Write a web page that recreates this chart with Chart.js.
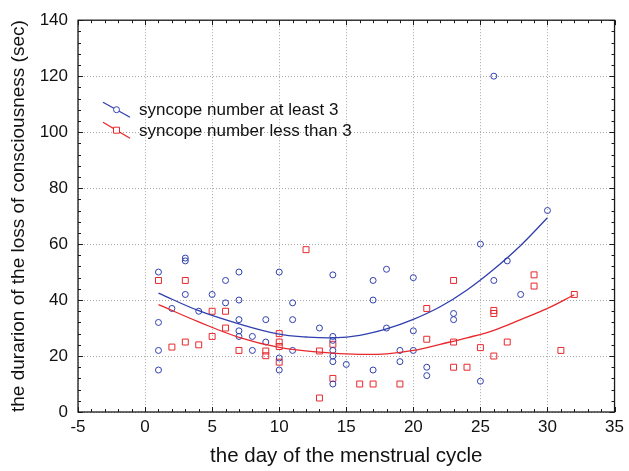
<!DOCTYPE html>
<html><head><meta charset="utf-8">
<script src="https://cdn.jsdelivr.net/npm/chart.js@4/dist/chart.umd.min.js"></script>
<style>html,body{margin:0;padding:0;background:#fff;}#wrap{width:629px;height:471px;}</style>
</head><body><div id="wrap"><canvas id="c" width="629" height="471"></canvas></div>
<script>
// ---- data ----
const xTickValues = [-5, 0, 5, 10, 15, 20, 25, 30, 35];
const yTickValues = [0, 20, 40, 60, 80, 100, 120, 140];
const seriesNames = ['syncope number at least 3', 'syncope number less than 3'];
const xTitle = 'the day of the menstrual cycle';
const yTitle = 'the durarion of the loss of consciousness (sec)';

const atLeast3Day = [1,3,3,7,6,3,5,7,6,2,4,1,7,7,7,8,1,8,1,
  10,14,17,17,11,9,11,13,14,9,14,11,14,14,10,14,15,10,17,14,
  25,18,20,26,23,23,18,20,19,20,19,21,21,25,
  30,27,28,26];
const atLeast3Dur = [50,55,54,50,47,42,42,40,39,37,36,32,33,29,27,27,22,22,15,
  50,49,47,40,39,33,33,30,27,25,25.6,22,22,20,19.3,18,17,15,15,10,
  60,51,48,47,35.2,33,30,29,22,22,18,16,13,11,
  72,54,42,120];

const lessThan3Day = [1,3,5,6,6,5,2,3,4,7,
  12,10,10,10,9,9,13,14,10,14,13,16,17,
  23,21,26,26,21,23,25,26,23,24,19,
  29,29,32,27,31];
const lessThan3Dur = [47,47,36,36,30,27,23.2,25,24,22,
  58,28,25,23.4,21.8,20.1,21.8,24.2,17.8,12,5,10,10,
  47,37,36.3,35.2,26,25,23,20,16,16,10,
  49,45,42,25,22];

const atLeast3FitDay = [1,4,7,10,12,14,16,18,20,22,24,26,28,30];
const atLeast3FitDur = [42.5,36.2,31.5,27.8,26.8,26.5,27.4,29.7,33.1,37.6,43.6,51,59.5,69.4];
const lessThan3FitDay = [1,4,7,10,13,16,18,20,22,24,26,28,30,32];
const lessThan3FitDur = [38.4,32.2,26.7,23.1,21.4,20.6,20.8,22.0,24.2,26.5,29.2,33,37,41.9];

// ---- styles ----
const BLUE = '#2f3fae';
const RED = '#e8282c';
const FONT = '"Liberation Sans", Arial, Helvetica, sans-serif';

const pts = (xs, ys) => xs.map((x, i) => ({x, y: ys[i]}));

const frameAndTicks = {
  id: 'frameAndTicks',
  afterDatasetsDraw(chart) {
    const {ctx, chartArea: a, scales: {x, y}} = chart;
    ctx.save();
    ctx.strokeStyle = '#1a1a1a';
    ctx.lineWidth = 1.3;
    ctx.strokeRect(a.left, a.top, a.right - a.left, a.bottom - a.top);
    ctx.lineWidth = 1;
    ctx.beginPath();
    for (let v = x.min; v <= x.max + 1e-9; v += 1) {
      const p = Math.round(x.getPixelForValue(v)) + 0.5;
      const len = (Math.abs(v % 5) < 1e-9) ? 5 : 3;
      ctx.moveTo(p, a.bottom); ctx.lineTo(p, a.bottom - len);
      ctx.moveTo(p, a.top); ctx.lineTo(p, a.top + len);
    }
    for (let v = y.min; v <= y.max + 1e-9; v += 4) {
      const p = Math.round(y.getPixelForValue(v)) + 0.5;
      const len = (Math.abs(v % 20) < 1e-9) ? 5 : 3;
      ctx.moveTo(a.left, p); ctx.lineTo(a.left + len, p);
      ctx.moveTo(a.right, p); ctx.lineTo(a.right - len, p);
    }
    ctx.stroke();
    ctx.restore();
  },
  afterDraw(chart) {
    const {ctx, chartArea: a} = chart;
    ctx.save();
    const items = [
      {color: BLUE, shape: 'circle', y1: 82, y2: 97, ty: 90, name: seriesNames[0]},
      {color: RED, shape: 'rect', y1: 102, y2: 118, ty: 111, name: seriesNames[1]}
    ];
    items.forEach(it => {
      const x1 = a.left + 25, x2 = a.left + 52;
      const ya = a.top + it.y1, yb = a.top + it.y2;
      ctx.strokeStyle = it.color; ctx.lineWidth = 1.3;
      ctx.beginPath(); ctx.moveTo(x1, ya); ctx.lineTo(x2, yb); ctx.stroke();
      const mx = (x1 + x2) / 2, my = (ya + yb) / 2;
      ctx.fillStyle = '#fff'; ctx.lineWidth = 1;
      ctx.beginPath();
      if (it.shape === 'circle') ctx.arc(mx, my, 3, 0, Math.PI * 2);
      else ctx.rect(mx - 3, my - 3, 6, 6);
      ctx.fill(); ctx.stroke();
      ctx.fillStyle = '#111';
      ctx.font = '17px ' + FONT;
      ctx.textBaseline = 'middle';
      ctx.textAlign = 'left';
      ctx.fillText(it.name, a.left + 61, a.top + it.ty);
    });
    ctx.restore();
  }
};

new Chart(document.getElementById('c'), {
  type: 'scatter',
  data: {
    datasets: [
      {label: seriesNames[0] + ' fit', type: 'line', data: pts(atLeast3FitDay, atLeast3FitDur),
        borderColor: BLUE, borderWidth: 1.3, pointRadius: 0, tension: 0.4, fill: false},
      {label: seriesNames[1] + ' fit', type: 'line', data: pts(lessThan3FitDay, lessThan3FitDur),
        borderColor: RED, borderWidth: 1.3, pointRadius: 0, tension: 0.4, fill: false},
      {label: seriesNames[0], data: pts(atLeast3Day, atLeast3Dur), pointStyle: 'circle',
        pointRadius: 3, pointBorderWidth: 1, borderColor: BLUE, backgroundColor: 'rgba(255,255,255,0)'},
      {label: seriesNames[1], data: pts(lessThan3Day, lessThan3Dur), pointStyle: 'rect',
        pointRadius: 4.2, pointBorderWidth: 1, borderColor: RED, backgroundColor: 'rgba(255,255,255,0)'}
    ]
  },
  options: {
    responsive: false,
    animation: false,
    devicePixelRatio: 1,
    layout: {padding: {left: 0, right: 10, top: 20, bottom: 0}},
    plugins: {legend: {display: false}, tooltip: {enabled: false}},
    scales: {
      x: {
        type: 'linear', min: xTickValues[0], max: xTickValues[xTickValues.length - 1],
        afterBuildTicks: s => { s.ticks = xTickValues.map(v => ({value: v})); },
        afterFit: s => { s.height = 59; },
        ticks: {color: '#111', font: {family: FONT, size: 17}, padding: 5, maxRotation: 0, autoSkip: false},
        grid: {color: '#a8a8a8', lineWidth: 1, drawTicks: false},
        border: {display: false, dash: [1, 2]},
        title: {display: true, text: xTitle, color: '#111', font: {family: FONT, size: 20.5}, padding: {top: 0, bottom: 2}}
      },
      y: {
        type: 'linear', min: yTickValues[0], max: yTickValues[yTickValues.length - 1],
        afterBuildTicks: s => { s.ticks = yTickValues.map(v => ({value: v})); },
        afterFit: s => { s.width = 78; },
        ticks: {color: '#111', font: {family: FONT, size: 17}, padding: 10},
        grid: {color: '#a8a8a8', lineWidth: 1, drawTicks: false},
        border: {display: false, dash: [1, 2]},
        title: {display: true, text: yTitle, color: '#111', font: {family: FONT, size: 19}, padding: {top: 7, bottom: 0}}
      }
    }
  },
  plugins: [frameAndTicks]
});
</script>
</body></html>
